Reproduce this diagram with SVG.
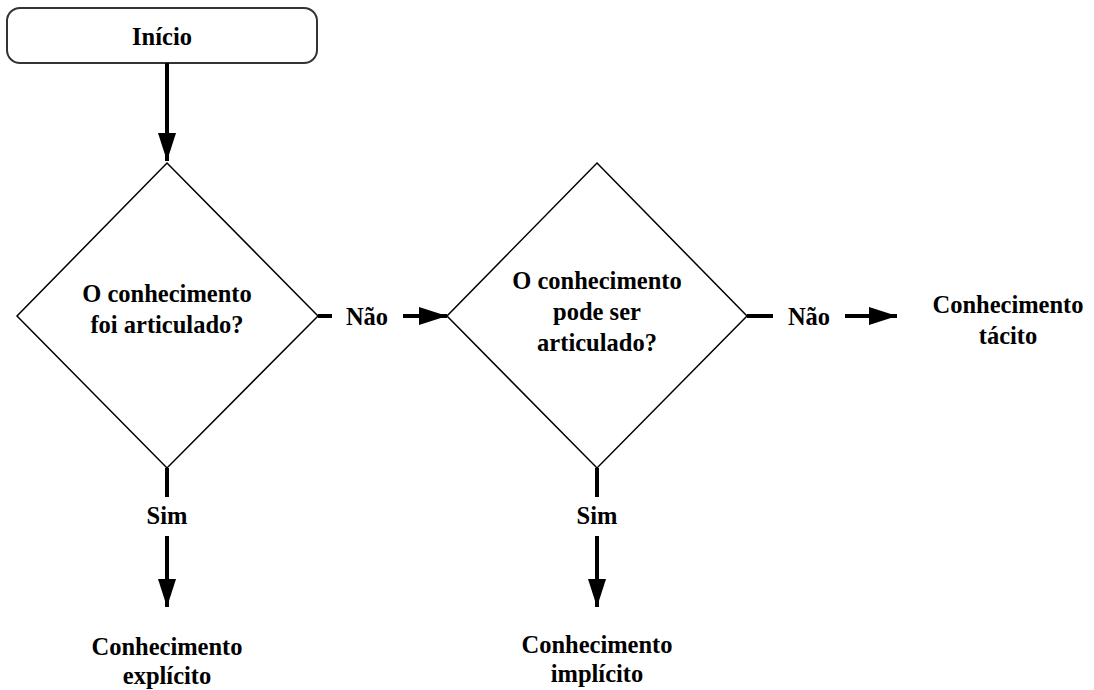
<svg xmlns="http://www.w3.org/2000/svg" width="1094" height="690" viewBox="0 0 1094 690">
  <defs>
    <marker id="arrow" viewBox="0 0 28 18" refX="28" refY="9" markerWidth="28" markerHeight="18" markerUnits="userSpaceOnUse" orient="auto">
      <path d="M0,0 L28,9 L0,18 Z" fill="#000"/>
    </marker>
  </defs>
  <style>
    .lbl { font-weight: bold; font-size: 24.5px; fill: #000; text-anchor: middle; }
    .shape { fill: #fff; stroke: #000; stroke-width: 1.5; }
    .box { fill: #fff; stroke: #333; stroke-width: 2; }
    .flow { fill: none; stroke: #000; stroke-width: 4; }
  </style>
  <rect width="1094" height="690" fill="#fff"/>

  <g font-family="Liberation Serif, serif">
  <g id="inicio">
    <rect class="box" x="7" y="8" width="310" height="55" rx="13" ry="13"/>
    <text class="lbl" x="162" y="45">Início</text>
  </g>

  <g id="decisao-articulado">
    <polygon class="shape" points="167,163 318,316 167,468 17,316"/>
    <text class="lbl" x="167" y="302">O conhecimento</text>
    <text class="lbl" x="167" y="333">foi articulado?</text>
  </g>

  <g id="decisao-pode-ser">
    <polygon class="shape" points="597,163 747,316 597,468 447,316"/>
    <text class="lbl" x="597" y="289">O conhecimento</text>
    <text class="lbl" x="597" y="320">pode ser</text>
    <text class="lbl" x="597" y="351">articulado?</text>
  </g>

  <g id="tacito">
    <text class="lbl" x="1008" y="313">Conhecimento</text>
    <text class="lbl" x="1008" y="344">tácito</text>
  </g>

  <g id="explicito">
    <text class="lbl" x="167" y="655">Conhecimento</text>
    <text class="lbl" x="167" y="684">explícito</text>
  </g>

  <g id="implicito">
    <text class="lbl" x="597" y="653">Conhecimento</text>
    <text class="lbl" x="597" y="682">implícito</text>
  </g>

  <g id="connectors">
    <!-- start to first decision -->
    <line class="flow" x1="167" y1="63" x2="167" y2="161" marker-end="url(#arrow)"/>
    <!-- first decision, "Não" branch -->
    <line class="flow" x1="318" y1="316" x2="332" y2="316"/>
    <text class="lbl" x="367" y="325">Não</text>
    <line class="flow" x1="403" y1="316" x2="447" y2="316" marker-end="url(#arrow)"/>
    <!-- second decision, "Não" branch -->
    <line class="flow" x1="747" y1="316" x2="773" y2="316"/>
    <text class="lbl" x="809" y="325">Não</text>
    <line class="flow" x1="845" y1="316" x2="897" y2="316" marker-end="url(#arrow)"/>
    <!-- first decision, "Sim" branch -->
    <line class="flow" x1="167" y1="468" x2="167" y2="497"/>
    <text class="lbl" x="167" y="524">Sim</text>
    <line class="flow" x1="167" y1="536" x2="167" y2="607" marker-end="url(#arrow)"/>
    <!-- second decision, "Sim" branch -->
    <line class="flow" x1="597" y1="468" x2="597" y2="497"/>
    <text class="lbl" x="597" y="524">Sim</text>
    <line class="flow" x1="597" y1="536" x2="597" y2="607" marker-end="url(#arrow)"/>
  </g>
  </g>
</svg>
